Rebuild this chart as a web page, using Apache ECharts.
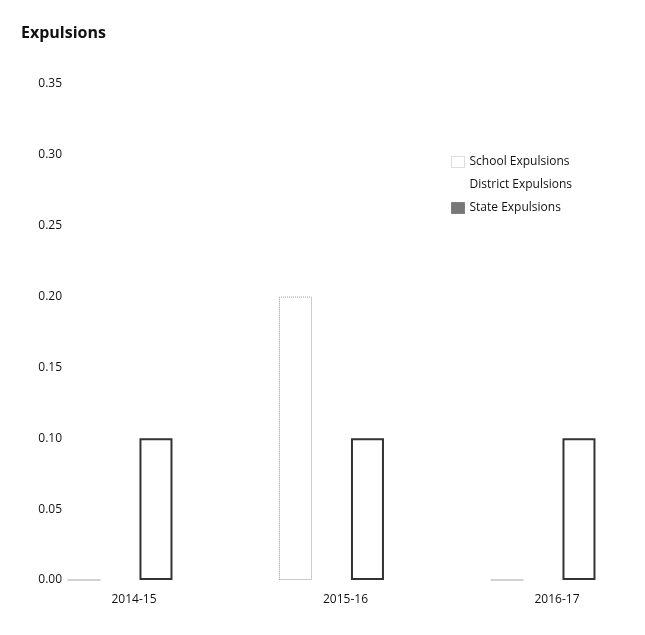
<!DOCTYPE html>
<html>
<head>
<meta charset="utf-8">
<script src="https://cdn.jsdelivr.net/npm/echarts@6/dist/echarts.min.js"></script>
<style>
html,body{margin:0;padding:0;background:#fff;}
#c{width:645px;height:635px;}
</style>
</head>
<body>
<div id="c"></div>
<script>
const categories = ['2014-15', '2015-16', '2016-17'];
const schoolExpulsions = [0, 0.20, 0];
const districtExpulsions = [0, 0, 0];
const stateExpulsions = [0.10, 0.10, 0.10];
const yTicks = [0, 0.05, 0.10, 0.15, 0.20, 0.25, 0.30, 0.35];

const FONT = '"Open Sans", "DejaVu Sans", sans-serif';
const chart = echarts.init(document.getElementById('c'), null, {renderer: 'canvas'});
chart.setOption({
  animation: false,
  backgroundColor: '#ffffff',
  title: {
    text: 'Expulsions',
    left: 16, top: 20,
    textStyle: {fontFamily: FONT, fontSize: 16, fontWeight: 'bold', color: '#111'}
  },
  legend: {
    orient: 'vertical',
    left: 446, top: 151,
    icon: 'rect',
    itemWidth: 13, itemHeight: 11, itemGap: 11,
    textStyle: {fontFamily: FONT, fontSize: 12, color: '#111'},
    data: [
      {name: 'School Expulsions', itemStyle: {color: '#ffffff', borderColor: '#bbb', borderWidth: 1, borderType: 'dotted'}},
      {name: 'District Expulsions', itemStyle: {color: '#ffffff', borderWidth: 0}},
      {name: 'State Expulsions', itemStyle: {color: '#777', borderColor: '#444', borderWidth: 1, borderType: 'dotted'}}
    ]
  },
  grid: {left: 120, right: 102, top: 84, bottom: 55},
  xAxis: {
    type: 'category',
    data: categories,
    boundaryGap: false,
    axisLine: {show: false},
    axisTick: {show: false},
    axisLabel: {fontFamily: FONT, fontSize: 12, color: '#111', margin: 14, padding: [0, 0, 0, 28]}
  },
  yAxis: {
    type: 'value',
    min: 0, max: 0.35, interval: 0.05,
    axisLine: {show: false},
    axisTick: {show: false},
    splitLine: {show: false},
    axisLabel: {
      fontFamily: FONT, fontSize: 12, color: '#111', margin: 58,
      formatter: v => {
        const t = yTicks.find(x => Math.abs(x - v) < 1e-9);
        return (t !== undefined ? t : v).toFixed(2);
      }
    }
  },
  series: [
    {
      name: 'School Expulsions', type: 'bar', data: schoolExpulsions,
      barWidth: 33, barGap: '9%',
      itemStyle: {color: 'rgba(255,255,255,0)', borderColor: '#999', borderWidth: 1, borderType: 'dotted'}
    },
    {
      name: 'District Expulsions', type: 'bar', data: districtExpulsions,
      barWidth: 33, barGap: '9%',
      itemStyle: {color: 'rgba(255,255,255,0)', borderWidth: 0}
    },
    {
      name: 'State Expulsions', type: 'bar', data: stateExpulsions,
      barWidth: 33, barGap: '9%',
      itemStyle: {color: '#ffffff', borderColor: '#333', borderWidth: 2}
    }
  ]
});
</script>
</body>
</html>
